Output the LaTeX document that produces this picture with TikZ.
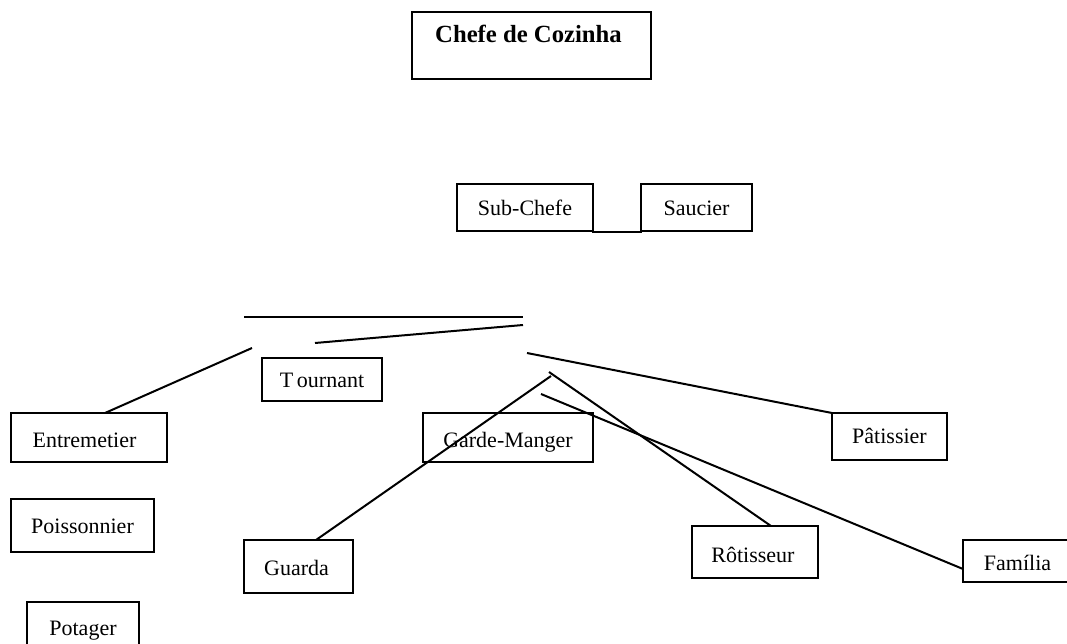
\documentclass[tikz,border=0pt]{standalone}
\usepackage{fontspec}
\setmainfont{Liberation Serif}
\begin{document}
\begin{tikzpicture}[x=1pt,y=-1pt,
  box/.style={draw,line width=1.8pt,rectangle,inner sep=0pt,outer sep=0pt,
    font=\fontsize{22pt}{26pt}\selectfont},
  bigbox/.style={box,font=\fontsize{24.7pt}{28pt}\selectfont\bfseries},
  conn/.style={line width=2pt}]
\useasboundingbox (0,0) rectangle (1067,644);
\fill[white] (0,0) rectangle (1067,644);

\node[bigbox,minimum width=239pt,minimum height=67pt,text height=16.4pt,text depth=21.4pt] (chefe) at (531.5,45.5) {\hspace*{-6pt}Chefe de Cozinha};
\node[box,minimum width=136pt,minimum height=47pt,text height=17pt,text depth=0pt] (sub) at (525,207.5) {Sub-Chefe};
\node[box,minimum width=111pt,minimum height=47pt,text height=17pt,text depth=0pt] (sau) at (696.5,207.5) {Saucier};
\node[box,minimum width=120pt,minimum height=43pt,text height=15pt,text depth=0pt] (tour) at (322,379.5) {T\,ournant};
\node[box,minimum width=156pt,minimum height=49pt,text height=19pt,text depth=0pt] (entre) at (89,437.5) {\hspace*{-9pt}Entremetier};
\node[box,minimum width=143pt,minimum height=53pt,text height=15pt,text depth=0pt] (poisson) at (82.5,525.5) {Poissonnier};
\node[box,minimum width=112pt,minimum height=46pt,text height=20pt,text depth=0pt] (pot) at (83,625) {Potager};
\node[box,minimum width=170pt,minimum height=49pt,text height=19pt,text depth=0pt] (garde) at (508,437.5) {Garde-Manger};
\node[box,minimum width=115pt,minimum height=47pt,text height=13pt,text depth=0pt] (pat) at (889.5,436.5) {Pâtissier};
\node[box,minimum width=109pt,minimum height=53pt,text height=17pt,text depth=0pt] (guarda) at (298.5,566.5) {\hspace*{-4pt}Guarda};
\node[box,minimum width=126pt,minimum height=52pt,text height=20pt,text depth=0pt] (rot) at (755,552) {\hspace*{-4pt}Rôtisseur};
\node[box,minimum width=106pt,minimum height=42pt,text height=18pt,text depth=0pt] (fam) at (1016,561) {\hspace*{3pt}Família};

\coordinate (h1) at (244,317);
\coordinate (h2) at (523,317);
\coordinate (l1) at (315,343);
\coordinate (l2) at (523,325);
\coordinate (e0) at (252,348);
\coordinate (p0) at (527,353);
\coordinate (g0) at (551,376);
\coordinate (r0) at (549,372);
\coordinate (f0) at (541,394);

\draw[conn] (sub.south east) -- ++(0,1.5) -| (sau.south west);
\draw[conn] (h1) -- (h2);
\draw[conn] (l1) -- (l2);
\draw[conn] (e0) -- ([xshift=94pt]entre.north west);
\draw[conn] (p0) -- (pat.north west);
\draw[conn] (g0) -- ([xshift=72pt]guarda.north west);
\draw[conn] (r0) -- ([xshift=79pt]rot.north west);
\draw[conn] (f0) -- ([yshift=-8pt]fam.west);
\end{tikzpicture}
\end{document}
